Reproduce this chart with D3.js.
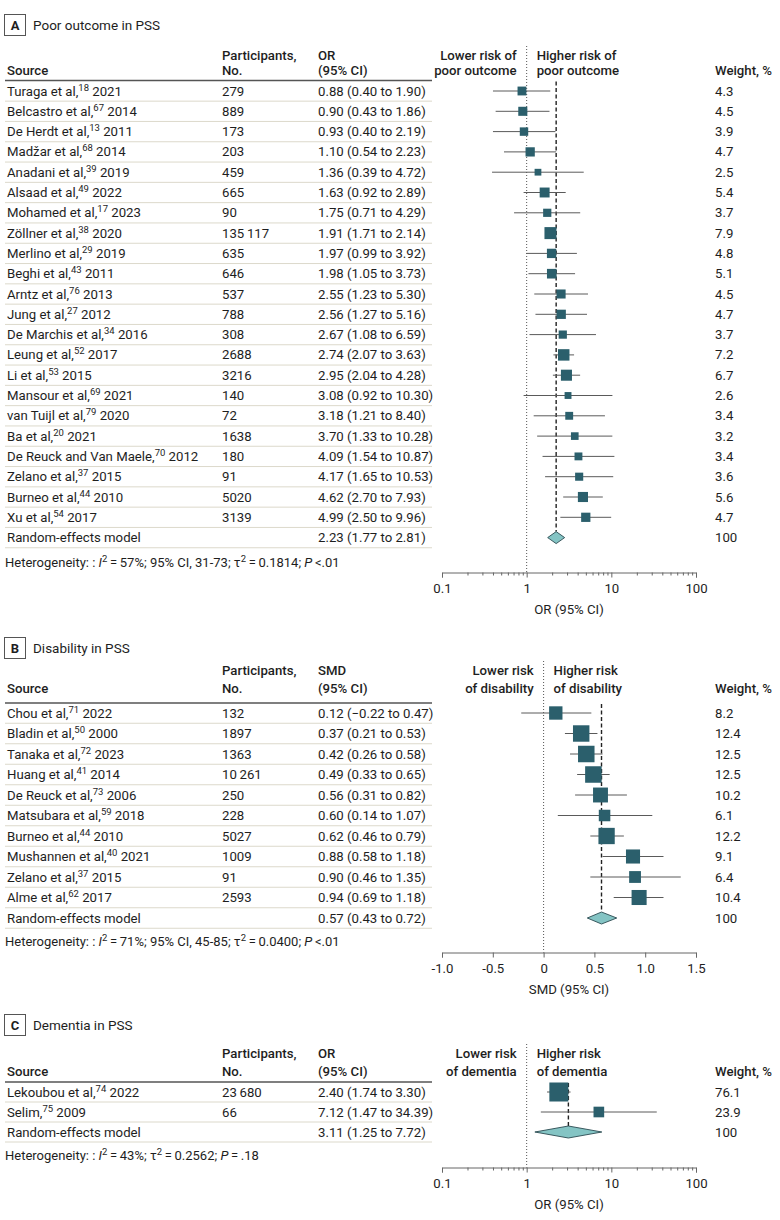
<!DOCTYPE html>
<html>
<head>
<meta charset="utf-8">
<script src="https://cdn.jsdelivr.net/npm/d3@7"></script>
<style>
  body { margin: 0; background: #fff; }
  svg { font-family: Roboto, "Noto Sans", sans-serif; }
  text { fill: #1e1e1e; }
</style>
</head>
<body>
<svg width="780" height="1220"></svg>
<script>
// ---- Panel A: poor outcome in PSS (OR) ----
const authorsA = ['Turaga et al', 'Belcastro et al', 'De Herdt et al', 'Madžar et al', 'Anadani et al', 'Alsaad et al',
    'Mohamed et al', 'Zöllner et al', 'Merlino et al', 'Beghi et al', 'Arntz et al', 'Jung et al', 'De Marchis et al',
    'Leung et al', 'Li et al', 'Mansour et al', 'van Tuijl et al', 'Ba et al', 'De Reuck and Van Maele', 'Zelano et al',
    'Burneo et al', 'Xu et al']
const refsA = [18, 67, 13, 68, 39, 49, 17, 38, 29, 43, 76, 27, 34, 52, 53, 69, 79, 20, 70, 37, 44, 54]
const yearsA = [2021, 2014, 2011, 2014, 2019, 2022, 2023, 2020, 2019, 2011, 2013, 2012, 2016, 2017, 2015, 2021, 2020, 2021, 2012, 2015, 2010, 2017]
const nA = [279, 889, 173, 203, 459, 665, 90, 135117, 635, 646, 537, 788, 308, 2688, 3216, 140, 72, 1638, 180, 91, 5020, 3139]
const estA = [0.88, 0.90, 0.93, 1.10, 1.36, 1.63, 1.75, 1.91, 1.97, 1.98, 2.55, 2.56, 2.67, 2.74, 2.95, 3.08, 3.18, 3.70, 4.09, 4.17, 4.62, 4.99]
const lowA = [0.40, 0.43, 0.40, 0.54, 0.39, 0.92, 0.71, 1.71, 0.99, 1.05, 1.23, 1.27, 1.08, 2.07, 2.04, 0.92, 1.21, 1.33, 1.54, 1.65, 2.70, 2.50]
const highA = [1.90, 1.86, 2.19, 2.23, 4.72, 2.89, 4.29, 2.14, 3.92, 3.73, 5.30, 5.16, 6.59, 3.63, 4.28, 10.30, 8.40, 10.28, 10.87, 10.53, 7.93, 9.96]
const weightA = [4.3, 4.5, 3.9, 4.7, 2.5, 5.4, 3.7, 7.9, 4.8, 5.1, 4.5, 4.7, 3.7, 7.2, 6.7, 2.6, 3.4, 3.2, 3.4, 3.6, 5.6, 4.7]
const pooledA = [2.23, 1.77, 2.81]

// ---- Panel B: disability in PSS (SMD) ----
const authorsB = ['Chou et al', 'Bladin et al', 'Tanaka et al', 'Huang et al', 'De Reuck et al', 'Matsubara et al',
    'Burneo et al', 'Mushannen et al', 'Zelano et al', 'Alme et al']
const refsB = [71, 50, 72, 41, 73, 59, 44, 40, 37, 62]
const yearsB = [2022, 2000, 2023, 2014, 2006, 2018, 2010, 2021, 2015, 2017]
const nB = [132, 1897, 1363, 10261, 250, 228, 5027, 1009, 91, 2593]
const estB = [0.12, 0.37, 0.42, 0.49, 0.56, 0.60, 0.62, 0.88, 0.90, 0.94]
const lowB = [-0.22, 0.21, 0.26, 0.33, 0.31, 0.14, 0.46, 0.58, 0.46, 0.69]
const highB = [0.47, 0.53, 0.58, 0.65, 0.82, 1.07, 0.79, 1.18, 1.35, 1.18]
const weightB = [8.2, 12.4, 12.5, 12.5, 10.2, 6.1, 12.2, 9.1, 6.4, 10.4]
const pooledB = [0.57, 0.43, 0.72]

// ---- Panel C: dementia in PSS (OR) ----
const authorsC = ['Lekoubou et al', 'Selim']
const refsC = [74, 75]
const yearsC = [2022, 2009]
const nC = [23680, 66]
const estC = [2.40, 7.12]
const lowC = [1.74, 1.47]
const highC = [3.30, 34.39]
const weightC = [76.1, 23.9]
const pooledC = [3.11, 1.25, 7.72]

// heterogeneity statistics, A / B / C
const hetI2 = ['57%', '71%', '43%']
const hetCI = ['31-73', '45-85', null]
const hetTau2 = ['0.1814', '0.0400', '0.2562']
const hetP = ['<.01', '<.01', '=\u2009.18']

const logTicks = [0.1, 1, 10, 100]
const smdTicks = [-1, -0.5, 0, 0.5, 1, 1.5]

const svg = d3.select('svg')
const dark = '#2b5f6c'
const light = '#84c4c4'
const sepCol = '#dcd9cb'
const f2 = d3.format('.2f')
const fs = 13.2

function fmtN(n) {
    if (n < 10000) return String(n)
    return d3.format(',')(n).replace(/,/g, '\u2009')
}

function drawPanel(p) {
    const g = svg.append('g')
    const x = p.scale

    // panel letter box + title
    g.append('rect')
        .attr('x', 4.5).attr('y', p.titleY - 10.5)
        .attr('width', 21).attr('height', 21)
        .attr('fill', 'none').attr('stroke', '#555').attr('stroke-width', 1)
    g.append('text').attr('x', 15).attr('y', p.titleY + 4.5)
        .attr('text-anchor', 'middle').attr('font-weight', 'bold').attr('font-size', 13)
        .text(p.letter)
    g.append('text').attr('x', 33).attr('y', p.titleY + 5)
        .attr('font-size', 13.5).text(p.title)

    // column headers
    const hdr = (tx, ty, s, anchor) => g.append('text')
        .attr('x', tx).attr('y', ty + 4.5).attr('font-size', fs).attr('font-weight', 500)
        .attr('text-anchor', anchor || 'start').text(s)
    hdr(7, p.h2, 'Source')
    hdr(222, p.h1, 'Participants,')
    hdr(222, p.h2, 'No.')
    hdr(318, p.h1, p.effect)
    hdr(318, p.h2, '(95% CI)')
    hdr(x(p.ref) - 10, p.h1, p.lower[0], 'end')
    hdr(x(p.ref) - 10, p.h2, p.lower[1], 'end')
    hdr(x(p.ref) + 10, p.h1, p.higher[0])
    hdr(x(p.ref) + 10, p.h2, p.higher[1])
    hdr(715, p.h2, 'Weight, %')

    g.append('line')
        .attr('x1', 5).attr('x2', 432).attr('y1', p.ruleY).attr('y2', p.ruleY)
        .attr('stroke', '#555').attr('stroke-width', 1.6)

    const rows = p.authors.map((a, i) => ({
        author: a, ref: p.refs[i], year: p.years[i], n: p.n[i],
        est: p.est[i], lo: p.low[i], hi: p.high[i], w: p.weight[i]
    }))
    const yRow = i => p.row0 + i * p.step
    const nRows = rows.length + 1

    // row separators
    g.selectAll('line.sep')
        .data(d3.range(nRows))
        .enter().append('line')
        .attr('class', 'sep')
        .attr('x1', 5).attr('x2', 432)
        .attr('y1', i => yRow(i) + p.step / 2).attr('y2', i => yRow(i) + p.step / 2)
        .attr('stroke', sepCol).attr('stroke-width', 1)

    // study text
    const rowText = g.selectAll('g.row')
        .data(rows)
        .enter().append('g')
        .attr('class', 'row')
        .attr('font-size', fs)
    rowText.each(function (d, i) {
        const r = d3.select(this)
        const yy = yRow(i) + 4.5
        const src = r.append('text').attr('x', 7).attr('y', yy)
        src.append('tspan').text(d.author + ',')
        src.append('tspan').attr('dy', -5).attr('font-size', 9.5).text(d.ref)
        src.append('tspan').attr('dy', 5).text(' ' + d.year)
        r.append('text').attr('x', 222).attr('y', yy).text(fmtN(d.n))
        r.append('text').attr('x', 318).attr('y', yy).text(`${f2(d.est)} (${f2(d.lo)} to ${f2(d.hi)})`)
        r.append('text').attr('x', 715).attr('y', yy).text(d.w.toFixed(1))
    })

    const yp = yRow(rows.length)
    g.append('text').attr('x', 7).attr('y', yp + 4.5).attr('font-size', fs).text('Random-effects model')
    g.append('text').attr('x', 318).attr('y', yp + 4.5).attr('font-size', fs)
        .text(`${f2(p.pooled[0])} (${f2(p.pooled[1])} to ${f2(p.pooled[2])})`)
    g.append('text').attr('x', 715).attr('y', yp + 4.5).attr('font-size', fs).text('100')

    // heterogeneity line
    const het = g.append('text').attr('x', 5).attr('y', p.hetY + 4.5).attr('font-size', 13)
    het.append('tspan').text('Heterogeneity: : ')
    het.append('tspan').attr('font-style', 'italic').text('I')
    het.append('tspan').attr('dy', -5).attr('font-size', 9.5).text('2')
    het.append('tspan').attr('dy', 5).text('\u2009=\u2009' + p.het.i2 + '; ' + (p.het.ci ? '95% CI, ' + p.het.ci + '; ' : '') + 'τ')
    het.append('tspan').attr('dy', -5).attr('font-size', 9.5).text('2')
    het.append('tspan').attr('dy', 5).text('\u2009=\u2009' + p.het.tau2 + '; ')
    het.append('tspan').attr('font-style', 'italic').text('P')
    het.append('tspan').text('\u2009' + p.het.p)

    // reference (no effect) line
    g.append('line')
        .attr('x1', x(p.ref)).attr('x2', x(p.ref))
        .attr('y1', p.h1 - 9).attr('y2', p.axisY)
        .attr('stroke', '#555').attr('stroke-width', 1).attr('stroke-dasharray', '1,2')

    // pooled estimate line
    g.append('line')
        .attr('x1', x(p.pooled[0])).attr('x2', x(p.pooled[0]))
        .attr('y1', p.ruleY + 1).attr('y2', yp - 6)
        .attr('stroke', '#222').attr('stroke-width', 1.4).attr('stroke-dasharray', '4,2.5')

    // CI lines
    g.selectAll('line.ci')
        .data(rows)
        .enter().append('line')
        .attr('class', 'ci')
        .attr('x1', d => x(d.lo)).attr('x2', d => x(d.hi))
        .attr('y1', (d, i) => yRow(i)).attr('y2', (d, i) => yRow(i))
        .attr('stroke', '#5a5a5a').attr('stroke-width', 1)

    // weight squares (area ~ weight)
    const side = d3.scaleSqrt().domain([0, d3.max(p.weight)]).range([0, p.maxSide])
    g.selectAll('rect.sq')
        .data(rows)
        .enter().append('rect')
        .attr('class', 'sq')
        .attr('x', d => x(d.est) - side(d.w) / 2)
        .attr('y', (d, i) => yRow(i) - side(d.w) / 2)
        .attr('width', d => side(d.w)).attr('height', d => side(d.w))
        .attr('fill', dark)

    // pooled diamond
    const dh = 6
    g.append('path')
        .attr('d', `M${x(p.pooled[1])},${yp} L${x(p.pooled[0])},${yp - dh} L${x(p.pooled[2])},${yp} L${x(p.pooled[0])},${yp + dh} Z`)
        .attr('fill', light).attr('stroke', '#2a4a50').attr('stroke-width', 0.9)

    // axis
    const ax = g.append('g').attr('transform', `translate(0,${p.axisY})`)
        .attr('class', 'axis')
        .call(d3.axisBottom(x).tickValues(p.ticks).tickSize(5).tickPadding(6).tickFormat(p.tickFmt))
    ax.select('.domain').attr('stroke', '#666')
    ax.selectAll('.tick line').attr('stroke', '#666')
    ax.selectAll('text').attr('font-size', fs).attr('font-family', 'Roboto, sans-serif').attr('fill', '#1e1e1e')
    if (p.minor) {
        const mn = g.append('g').attr('transform', `translate(0,${p.axisY})`)
            .call(d3.axisBottom(x).tickValues(p.minor).tickSize(3).tickFormat(''))
        mn.select('.domain').remove()
        mn.selectAll('.tick line').attr('stroke', '#666')
    }
    g.append('text')
        .attr('x', (x.range()[0] + x.range()[1]) / 2).attr('y', p.axisY + 41)
        .attr('text-anchor', 'middle').attr('font-size', fs).text(p.axisLabel)
}

const logScale = () => d3.scaleLog().domain([0.1, 100]).range([442, 696])
const minorLog = [0.2, 0.3, 0.4, 0.5, 0.6, 0.7, 0.8, 0.9, 2, 3, 4, 5, 6, 7, 8, 9, 20, 30, 40, 50, 60, 70, 80, 90]
const logFmt = d => String(d)

drawPanel({
    letter: 'A', title: 'Poor outcome in PSS', titleY: 25, h1: 55, h2: 70, ruleY: 80.5, row0: 91, step: 20.3,
    authors: authorsA, refs: refsA, years: yearsA, n: nA, est: estA, low: lowA, high: highA, weight: weightA,
    pooled: pooledA, effect: 'OR', lower: ['Lower risk of', 'poor outcome'], higher: ['Higher risk of', 'poor outcome'],
    het: { i2: hetI2[0], ci: hetCI[0], tau2: hetTau2[0], p: hetP[0] }, hetY: 562, axisY: 572.5,
    scale: logScale(), ref: 1, ticks: logTicks, minor: minorLog, tickFmt: logFmt, maxSide: 12, axisLabel: 'OR (95% CI)'
})

drawPanel({
    letter: 'B', title: 'Disability in PSS', titleY: 648, h1: 670, h2: 688, ruleY: 703, row0: 713, step: 20.5,
    authors: authorsB, refs: refsB, years: yearsB, n: nB, est: estB, low: lowB, high: highB, weight: weightB,
    pooled: pooledB, effect: 'SMD', lower: ['Lower risk', 'of disability'], higher: ['Higher risk', 'of disability'],
    het: { i2: hetI2[1], ci: hetCI[1], tau2: hetTau2[1], p: hetP[1] }, hetY: 941, axisY: 952.5,
    scale: d3.scaleLinear().domain([-1, 1.5]).range([442, 696]), ref: 0, ticks: smdTicks, minor: null,
    tickFmt: d => d === 0 ? '0' : d3.format('.1f')(d).replace('−', '-'), maxSide: 16.5, axisLabel: 'SMD (95% CI)'
})

drawPanel({
    letter: 'C', title: 'Dementia in PSS', titleY: 1025, h1: 1053, h2: 1071, ruleY: 1082, row0: 1092, step: 20,
    authors: authorsC, refs: refsC, years: yearsC, n: nC, est: estC, low: lowC, high: highC, weight: weightC,
    pooled: pooledC, effect: 'OR', lower: ['Lower risk', 'of dementia'], higher: ['Higher risk', 'of dementia'],
    het: { i2: hetI2[2], ci: hetCI[2], tau2: hetTau2[2], p: hetP[2] }, hetY: 1155, axisY: 1167.5,
    scale: logScale(), ref: 1, ticks: logTicks, minor: minorLog, tickFmt: logFmt, maxSide: 19, axisLabel: 'OR (95% CI)'
})
</script>
</body>
</html>
